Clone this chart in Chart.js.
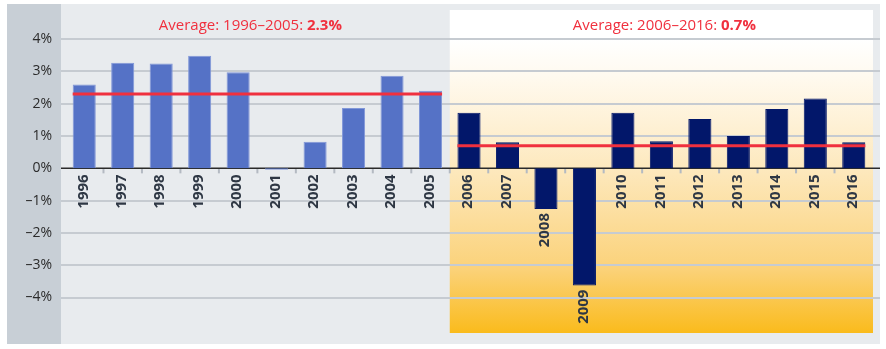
<!DOCTYPE html>
<html>
<head>
<meta charset="utf-8">
<script src="https://cdn.jsdelivr.net/npm/chart.js@4/dist/chart.umd.min.js"></script>
<style>
  html, body { margin: 0; padding: 0; background: #ffffff; }
  canvas { display: block; }
</style>
</head>
<body>
<canvas id="groeiChart" width="886" height="349"></canvas>
<script>
// data
const years = ['1996', '1997', '1998', '1999', '2000', '2001', '2002', '2003', '2004', '2005',
  '2006', '2007', '2008', '2009', '2010', '2011', '2012', '2013', '2014', '2015', '2016'];
const growth = [2.6, 3.27, 3.25, 3.49, 2.98, -0.04, 0.82, 1.87, 2.87, 2.4,
  1.72, 0.81, -1.26, -3.63, 1.72, 0.84, 1.53, 1.0, 1.84, 2.16, 0.81];
const periodLabels = ['1996\u20132005', '2006\u20132016'];
const periodAverages = [2.3, 0.7];
const periodStart = [0, 10]; // index of first year in each period
const periodEnd = [9, 20];
const yTicks = [4, 3, 2, 1, 0, -1, -2, -3, -4];

const blue = '#5572c6';
const navy = '#02176a';
const red = '#f0303e';

const barColors = years.map((y, i) => i < periodStart[1] ? blue : navy);
const barBorders = years.map((y, i) => i < periodStart[1] ? '#8197d8' : navy);

function fmtPct(v) {
  return (v < 0 ? '\u2013' + Math.abs(v) : v) + '%';
}

// achtergrond, rasterlijnen, nullijn en y-labels
const backgroundPlugin = {
  id: 'panels',
  beforeDraw(chart) {
    const ctx = chart.ctx;
    const area = chart.chartArea;
    const x = chart.scales.x;
    const y = chart.scales.y;
    const step = x.getPixelForValue(1) - x.getPixelForValue(0);
    const split = x.getPixelForValue(periodStart[1]) - step / 2;

    ctx.save();
    ctx.fillStyle = '#e8ebee';
    ctx.fillRect(area.left - 4, area.top, area.right - area.left + 11, area.bottom - area.top);
    ctx.fillStyle = '#c8cfd6';
    ctx.fillRect(7, area.top, area.left - 4 - 7, area.bottom - area.top);

    // rechter paneel met verloop
    const top = area.top + 6;
    const bottom = area.bottom - 11;
    const grad = ctx.createLinearGradient(0, top, 0, bottom);
    grad.addColorStop(0, '#ffffff');
    grad.addColorStop(0.09, '#ffffff');
    grad.addColorStop(0.2, '#fffaf0');
    grad.addColorStop(0.5, '#fde8bc');
    grad.addColorStop(0.8, '#fbd27a');
    grad.addColorStop(1, '#fabb1c');
    ctx.fillStyle = grad;
    ctx.fillRect(split, top, area.right - split, bottom - top);

    // rasterlijnen
    ctx.strokeStyle = '#c6cbd1';
    ctx.lineWidth = 2;
    yTicks.forEach(t => {
      if (t === 0) return;
      const py = Math.round(y.getPixelForValue(t));
      ctx.beginPath();
      ctx.moveTo(area.left - 4, py);
      ctx.lineTo(area.right + 7, py);
      ctx.stroke();
    });

    // y-labels
    ctx.fillStyle = '#2b2b2b';
    ctx.font = '14px "Open Sans"';
    ctx.textAlign = 'right';
    ctx.textBaseline = 'middle';
    yTicks.forEach(t => {
      ctx.fillText(fmtPct(t), area.left - 13, y.getPixelForValue(t));
    });

    // kleine streepjes tussen de jaren
    const zero = y.getPixelForValue(0);
    ctx.strokeStyle = '#b4bac2';
    for (let k = 1; k < years.length; k++) {
      const px = x.getPixelForValue(k) - step / 2;
      ctx.beginPath();
      ctx.moveTo(px, zero);
      ctx.lineTo(px, zero + 5);
      ctx.stroke();
    }

    // nullijn
    ctx.strokeStyle = '#2a2a2a';
    ctx.lineWidth = 1.5;
    ctx.beginPath();
    ctx.moveTo(area.left - 4, zero);
    ctx.lineTo(area.right + 7, zero);
    ctx.stroke();
    ctx.restore();
  },
  afterDatasetsDraw(chart) {
    const ctx = chart.ctx;
    const x = chart.scales.x;
    const y = chart.scales.y;
    const meta = chart.getDatasetMeta(0);
    const zero = y.getPixelForValue(0);
    const step = x.getPixelForValue(1) - x.getPixelForValue(0);

    ctx.save();
    // gemiddelde lijnen
    ctx.strokeStyle = red;
    ctx.lineWidth = 3;
    periodAverages.forEach((avg, p) => {
      const first = meta.data[periodStart[p]];
      const last = meta.data[periodEnd[p]];
      const py = y.getPixelForValue(avg);
      ctx.beginPath();
      ctx.moveTo(first.x - first.width / 2, py);
      ctx.lineTo(last.x + last.width / 2, py);
      ctx.stroke();
    });

    // titels
    ctx.fillStyle = red;
    ctx.textBaseline = 'middle';
    periodAverages.forEach((avg, p) => {
      const left = p === 0 ? chart.chartArea.left - 4 : x.getPixelForValue(periodStart[p]) - step / 2;
      const right = p === 0 ? x.getPixelForValue(periodStart[1]) - step / 2 : chart.chartArea.right;
      const cx = (left + right) / 2 + (p === 0 ? -5 : 3);
      const part1 = 'Average: ' + periodLabels[p] + ': ';
      const part2 = avg.toFixed(1) + '%';
      ctx.font = '15px "Open Sans"';
      const w1 = ctx.measureText(part1).width;
      ctx.font = 'bold 15px "Open Sans"';
      const w2 = ctx.measureText(part2).width;
      const sx = cx - (w1 + w2) / 2;
      ctx.textAlign = 'left';
      ctx.font = '15px "Open Sans"';
      ctx.fillText(part1, sx, 26);
      ctx.font = 'bold 15px "Open Sans"';
      ctx.fillText(part2, sx + w1, 26);
    });

    // jaartallen, verticaal onder de staaf of nullijn
    ctx.fillStyle = '#2e3744';
    ctx.font = 'bold 15px "Open Sans"';
    ctx.textAlign = 'right';
    ctx.textBaseline = 'middle';
    meta.data.forEach((bar, i) => {
      const v = growth[i];
      const startY = v < -0.2 ? y.getPixelForValue(v) + 4 : zero + 6;
      ctx.save();
      ctx.translate(bar.x - 1, startY);
      ctx.rotate(-Math.PI / 2);
      ctx.fillText(years[i], 0, 0);
      ctx.restore();
    });
    ctx.restore();
  }
};

const ctx = document.getElementById('groeiChart').getContext('2d');
new Chart(ctx, {
  type: 'bar',
  data: {
    labels: years,
    datasets: [{
      data: growth,
      backgroundColor: barColors,
      borderColor: barBorders,
      borderWidth: 1,
      borderSkipped: 'start',
      barPercentage: 0.6,
      categoryPercentage: 1
    }]
  },
  options: {
    responsive: false,
    animation: false,
    devicePixelRatio: 1,
    layout: { padding: { top: 4, bottom: 5, left: 65, right: 13 } },
    plugins: {
      legend: { display: false },
      tooltip: { enabled: false },
      title: { display: false }
    },
    scales: {
      x: {
        display: false,
        offset: true
      },
      y: {
        display: false,
        min: -5.44,
        max: 5.09
      }
    }
  },
  plugins: [backgroundPlugin]
});
</script>
</body>
</html>
